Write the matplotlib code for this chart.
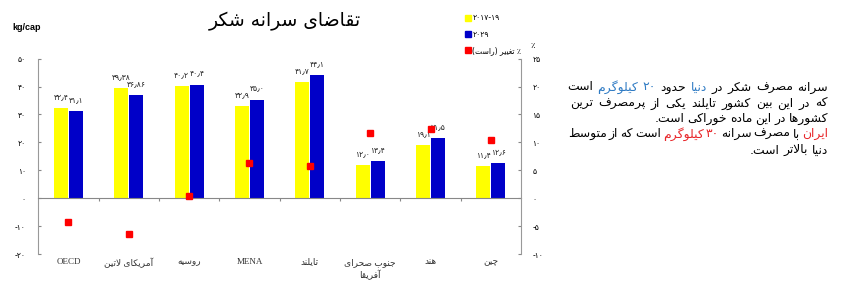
import re
import matplotlib
matplotlib.use('Agg')
import matplotlib.pyplot as plt
from matplotlib.lines import Line2D

# data
categories = ['OECD', 'آمریکای لاتین', 'روسیه', 'MENA', 'تایلند', 'جنوب صحرای\nآفریقا', 'هند', 'چین']
base_2017_19 = [32.4, 39.38, 40.2, 32.9, 41.7, 12.0, 19.1, 11.4]
proj_2029 = [31.1, 36.86, 40.4, 35.0, 44.1, 13.4, 21.5, 12.6]
pct_change = [-4.2, -6.5, 0.4, 6.3, 5.8, 11.7, 12.4, 10.5]
left_ticks = [-20, -10, 0, 10, 20, 30, 40, 50]
right_ticks = [-10, -5, 0, 5, 10, 15, 20, 25]
legend_labels = ['2017-19', '2029', '٪ تغییر (راست)']
title = 'تقاضای سرانه شکر'

BLUE_TXT = '#2f7bc4'
RED_TXT = '#e8262a'
# (segments, left edge in px) for each line of the note
paragraph = [
    ([('سرانه مصرف شکر در', 'black'), ('دنیا', BLUE_TXT), ('حدود', 'black'),
      ('20 کیلوگرم', BLUE_TXT), ('است', 'black')], 567),
    ([('که در این بین کشور تایلند یکی از پرمصرف ترین', 'black')], 570),
    ([('کشورها در این ماده خوراکی است.', 'black')], 655),
    ([('ایران', RED_TXT), ('با مصرف سرانه', 'black'), ('30 کیلوگرم', RED_TXT),
      ('است که از متوسط', 'black')], 568),
    ([('دنیا بالاتر است.', 'black')], 750),
]

# --- minimal persian shaping (matplotlib has no complex text layout) ---
FORMS = {
    'ا': (0xFE8D, 0xFE8E), 'آ': (0xFE81, 0xFE82), 'د': (0xFEA9, 0xFEAA),
    'ذ': (0xFEAB, 0xFEAC), 'ر': (0xFEAD, 0xFEAE), 'ز': (0xFEAF, 0xFEB0),
    'ژ': (0xFB8A, 0xFB8B), 'و': (0xFEED, 0xFEEE),
    'ب': (0xFE8F, 0xFE90, 0xFE91, 0xFE92), 'پ': (0xFB56, 0xFB57, 0xFB58, 0xFB59),
    'ت': (0xFE95, 0xFE96, 0xFE97, 0xFE98), 'ث': (0xFE99, 0xFE9A, 0xFE9B, 0xFE9C),
    'ج': (0xFE9D, 0xFE9E, 0xFE9F, 0xFEA0), 'چ': (0xFB7A, 0xFB7B, 0xFB7C, 0xFB7D),
    'ح': (0xFEA1, 0xFEA2, 0xFEA3, 0xFEA4), 'خ': (0xFEA5, 0xFEA6, 0xFEA7, 0xFEA8),
    'س': (0xFEB1, 0xFEB2, 0xFEB3, 0xFEB4), 'ش': (0xFEB5, 0xFEB6, 0xFEB7, 0xFEB8),
    'ص': (0xFEB9, 0xFEBA, 0xFEBB, 0xFEBC), 'ض': (0xFEBD, 0xFEBE, 0xFEBF, 0xFEC0),
    'ط': (0xFEC1, 0xFEC2, 0xFEC3, 0xFEC4), 'ظ': (0xFEC5, 0xFEC6, 0xFEC7, 0xFEC8),
    'ع': (0xFEC9, 0xFECA, 0xFECB, 0xFECC), 'غ': (0xFECD, 0xFECE, 0xFECF, 0xFED0),
    'ف': (0xFED1, 0xFED2, 0xFED3, 0xFED4), 'ق': (0xFED5, 0xFED6, 0xFED7, 0xFED8),
    'ک': (0xFB8E, 0xFB8F, 0xFB90, 0xFB91), 'گ': (0xFB92, 0xFB93, 0xFB94, 0xFB95),
    'ل': (0xFEDD, 0xFEDE, 0xFEDF, 0xFEE0), 'م': (0xFEE1, 0xFEE2, 0xFEE3, 0xFEE4),
    'ن': (0xFEE5, 0xFEE6, 0xFEE7, 0xFEE8), 'ه': (0xFEE9, 0xFEEA, 0xFEEB, 0xFEEC),
    'ی': (0xFBFC, 0xFBFD, 0xFBFE, 0xFBFF),
}
LAM_ALEF = {'ا': (0xFEFB, 0xFEFC), 'آ': (0xFEF5, 0xFEF6)}
FA_DIGITS = str.maketrans('0123456789', '۰۱۲۳۴۵۶۷۸۹')


def fa(s):
    return str(s).translate(FA_DIGITS)


def shape(s):
    out = []
    i = 0
    while i < len(s):
        c = s[i]
        prev = s[i - 1] if i > 0 else ''
        pj = prev in FORMS and len(FORMS[prev]) == 4
        if c == 'ل' and i + 1 < len(s) and s[i + 1] in LAM_ALEF:
            lig = LAM_ALEF[s[i + 1]]
            out.append(chr(lig[1] if pj else lig[0]))
            i += 2
            continue
        if c not in FORMS:
            out.append(c)
            i += 1
            continue
        f = FORMS[c]
        nj = len(f) == 4 and i + 1 < len(s) and s[i + 1] in FORMS
        if len(f) == 2:
            out.append(chr(f[1] if pj else f[0]))
        elif pj and nj:
            out.append(chr(f[3]))
        elif pj:
            out.append(chr(f[1]))
        elif nj:
            out.append(chr(f[2]))
        else:
            out.append(chr(f[0]))
        i += 1
    return ''.join(out)


def rtl(s):
    lines = []
    for line in fa(s).split('\n'):
        shaped = shape(line)
        runs = re.findall(r'[۰-۹٫]+|[^۰-۹٫]+', shaped)
        vis = []
        for r in reversed(runs):
            if re.match(r'[۰-۹٫]', r):
                vis.append(r)
            else:
                vis.append(r[::-1].translate(str.maketrans('()', ')(')))
        lines.append(''.join(vis))
    return '\n'.join(lines)


def is_rtl(s):
    return any(ch in FORMS for ch in s)


def fmt(v):
    return fa(('%.2f' if round(v, 1) != v else '%.1f') % v).replace('.', '٫')


plt.rcParams['font.family'] = ['DejaVu Sans']
fig = plt.figure(figsize=(8.5, 2.93), dpi=100)
ax = fig.add_axes([0.045, 0.133, 0.568, 0.667])
ax2 = ax.twinx()

x = [i + 0.5 for i in range(len(categories))]
w = 0.23
xa = [v - 0.125 for v in x]
xb = [v + 0.125 for v in x]
b1 = ax.bar(xa, base_2017_19, w, color='#ffff00', zorder=2)
b2 = ax.bar(xb, proj_2029, w, color='#0000c8', zorder=2)
for bars, vals in ((b1, base_2017_19), (b2, proj_2029)):
    for r, v in zip(bars, vals):
        ax.annotate(fmt(v), (r.get_x() + r.get_width() / 2, v), xytext=(0, 5),
                    textcoords='offset points', ha='center', va='bottom',
                    fontsize=5.5, color='#222222')
ax2.plot(x, pct_change, 's', color='#ff0000', markersize=4.3, ls='', zorder=5)

ax.set_xlim(0, len(categories))
ax.set_ylim(-20, 50)
ax2.set_ylim(-10, 25)
ax.set_yticks(left_ticks)
ax.set_yticklabels([fa(t) for t in left_ticks], fontsize=5.5)
ax2.set_yticks(right_ticks)
ax2.set_yticklabels([fa(t) for t in right_ticks], fontsize=5.5)
ax.tick_params(axis='y', direction='in', length=2, pad=9, color='#888888')
ax2.tick_params(axis='y', direction='in', length=2, pad=8, color='#888888')

for a in (ax, ax2):
    a.spines['top'].set_visible(False)
ax.spines['right'].set_visible(False)
ax2.spines['left'].set_visible(False)
ax2.spines['bottom'].set_visible(False)
ax.spines['left'].set_color('#999999')
ax2.spines['right'].set_color('#999999')
ax.spines['bottom'].set_position(('data', 0))
ax.spines['bottom'].set_color('#888888')
ax.set_xticks(range(1, len(categories)))
ax.set_xticklabels([])
ax.tick_params(axis='x', direction='out', length=2.5, color='#888888')

for xi, lab in zip(x, categories):
    ax.text(xi, -21.5, rtl(lab) if is_rtl(lab) else lab, ha='center', va='top',
            fontsize=6.5, color='#333333', family=['Liberation Serif', 'DejaVu Sans'],
            linespacing=1.3)

ax2.text(1.025, 1.045, '٪', transform=ax2.transAxes, ha='center', va='bottom', fontsize=6)

# title and unit
fig.text(0.335, 0.925, rtl(title), ha='center', va='center', fontsize=13.5)
fig.text(0.014, 0.905, 'kg/cap', ha='left', va='center', fontsize=6.5,
         fontweight='bold', family='Liberation Sans')

# legend
handles = [Line2D([], [], marker='s', ls='', color=c, markersize=5)
           for c in ('#ffff00', '#0000c8', '#ff0000')]
labels = [rtl(l) if is_rtl(l) else fa(l) for l in legend_labels]
fig.legend(handles, labels, loc='upper left', bbox_to_anchor=(0.543, 0.965),
           frameon=False, fontsize=5.5, handletextpad=0.2, labelspacing=0.95,
           handlelength=0.8, borderaxespad=0)

# note, laid out word by word right to left and spread to the reference edges
fig.canvas.draw()
renderer = fig.canvas.get_renderer()
W, H = fig.get_size_inches() * fig.dpi
right_px = 828
y_px = [87, 103, 118.5, 134, 150]
for (segs, left_px), yp in zip(paragraph, y_px):
    words = [(wd, col) for txt, col in segs for wd in txt.split(' ')]
    texts = [fig.text(0.5, 1 - yp / H, rtl(wd), color=col, fontsize=8.9,
                      ha='right', va='center') for wd, col in words]
    widths = [t.get_window_extent(renderer).width for t in texts]
    gap = (right_px - left_px - sum(widths)) / max(len(words) - 1, 1)
    xp = right_px
    for t, wd in zip(texts, widths):
        t.set_x(xp / W)
        xp -= wd + gap

fig.savefig('out.png', dpi=100)
